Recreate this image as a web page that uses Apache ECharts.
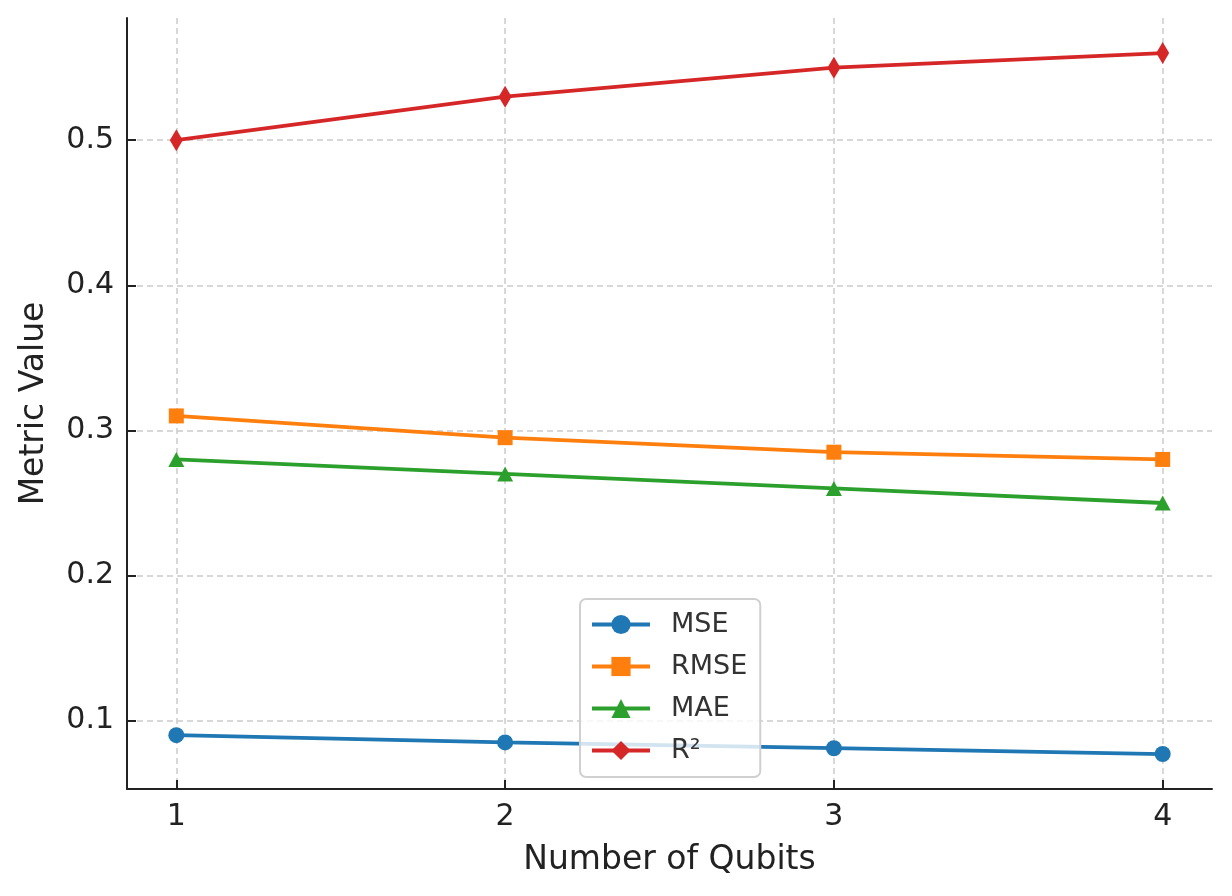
<!DOCTYPE html>
<html>
<head>
<meta charset="utf-8">
<script src="https://cdn.jsdelivr.net/npm/echarts@6/dist/echarts.min.js"></script>
<style>html,body{margin:0;padding:0;background:#fff}#c{width:1232px;height:896px}</style>
</head>
<body>
<div id="c"></div>
<script>
const qubits = [1, 2, 3, 4];
const xTicks = [1, 2, 3, 4];
const yTicks = [0.1, 0.2, 0.3, 0.4, 0.5];
const mse  = [0.090, 0.085, 0.081, 0.077];
const rmse = [0.310, 0.295, 0.285, 0.280];
const mae  = [0.280, 0.270, 0.260, 0.250];
const r2   = [0.500, 0.530, 0.550, 0.560];

const FONT = 'DejaVu Sans';
const TXT = '#222';
const xMin = 0.85, xMax = 4.15, yMin = 0.0529, yMax = 0.5842;
const L = 127, R = 1212, T = 18, B = 789;
const W = R - L, H = B - T;
const px = v => L + (v - xMin) / (xMax - xMin) * W;
const py = v => T + (yMax - v) / (yMax - yMin) * H;

const gridLine = {show: true, lineStyle: {color: '#cccccc', width: 1.5, type: [6, 4]}};
const tick = {show: true, inside: true, length: 9, lineStyle: {color: TXT, width: 2}};

const chart = echarts.init(document.getElementById('c'));
const mk = (name, data, color, symbol, size) => ({
  name, type: 'line', data: qubits.map((q, i) => [q, data[i]]),
  xAxisIndex: 2, yAxisIndex: 2,
  symbol, symbolSize: size, showSymbol: true,
  lineStyle: {color, width: 3.8}, itemStyle: {color},
  emphasis: {disabled: true}, clip: false, z: 3
});
chart.setOption({
  animation: false,
  textStyle: {fontFamily: FONT},
  grid: [
    {left: px(xTicks[0]), right: 1232 - px(xTicks[xTicks.length - 1]), top: T, bottom: 896 - B},
    {left: L, right: 1232 - R, top: py(yTicks[yTicks.length - 1]), bottom: 896 - py(yTicks[0])},
    {left: L, right: 1232 - R, top: T, bottom: 896 - B}
  ],
  xAxis: [
    {gridIndex: 0, type: 'value', min: 1, max: 4, interval: 1,
     axisLine: {show: false}, axisTick: tick, splitLine: gridLine,
     axisLabel: {fontSize: 30, color: TXT, margin: 13, fontFamily: FONT}},
    {gridIndex: 1, type: 'value', show: false, min: 0, max: 1},
    {gridIndex: 2, type: 'value', min: xMin, max: xMax,
     axisLine: {show: true, lineStyle: {color: TXT, width: 2}},
     axisTick: {show: false}, axisLabel: {show: false}, splitLine: {show: false},
     name: 'Number of Qubits', nameLocation: 'middle', nameGap: 55,
     nameTextStyle: {fontSize: 33, color: TXT, fontFamily: FONT}}
  ],
  yAxis: [
    {gridIndex: 0, type: 'value', show: false, min: 0, max: 1},
    {gridIndex: 1, type: 'value', min: 0.1, max: 0.5, interval: 0.1,
     axisLine: {show: false}, axisTick: tick, splitLine: gridLine,
     axisLabel: {fontSize: 30, color: TXT, margin: 13, fontFamily: FONT,
                 formatter: v => v.toFixed(1)}},
    {gridIndex: 2, type: 'value', min: yMin, max: yMax,
     axisLine: {show: true, lineStyle: {color: TXT, width: 2}},
     axisTick: {show: false}, axisLabel: {show: false}, splitLine: {show: false},
     name: 'Metric Value', nameLocation: 'middle', nameGap: 76,
     nameTextStyle: {fontSize: 33, color: TXT, fontFamily: FONT}}
  ],
  legend: {
    orient: 'vertical', left: 580, top: 599,
    padding: [12, 13, 13, 10], itemGap: 15, itemWidth: 58, itemHeight: 24,
    backgroundColor: 'rgba(255,255,255,0.8)', borderColor: '#d0d0d0', borderWidth: 2, borderRadius: 6,
    lineStyle: {width: 4},
    textStyle: {fontSize: 27, color: '#333', fontFamily: FONT, padding: [0, 0, 0, 16]},
    data: ['MSE', 'RMSE', 'MAE', 'R²']
  },
  series: [
    mk('MSE', mse, '#1f77b4', 'circle', 16),
    mk('RMSE', rmse, '#ff7f0e', 'rect', 15),
    mk('MAE', mae, '#2ca02c', 'triangle', [16, 15]),
    mk('R²', r2, '#d62728', 'diamond', [13, 22])
  ]
});
</script>
</body>
</html>
